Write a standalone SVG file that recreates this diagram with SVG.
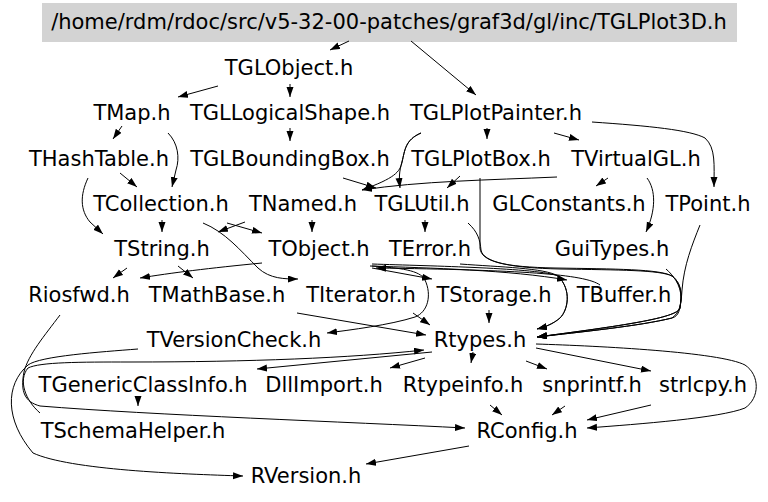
<svg xmlns="http://www.w3.org/2000/svg" width="768" height="502" viewBox="0 0 768 502">
<style>
text{font-family:"DejaVu Sans","Liberation Sans",sans-serif;font-size:21px;text-anchor:middle;fill:#000}
.e path{fill:none;stroke:#000;stroke-width:1;marker-end:url(#ah)}
</style>
<defs>
<marker id="ah" markerUnits="userSpaceOnUse" markerWidth="11" markerHeight="8" refX="10" refY="3.5" orient="auto">
<path d="M0,0 L10,3.5 L0,7 z" fill="#000"/>
</marker>
</defs>
<rect width="768" height="502" fill="#fff"/>
<g id="title"><rect x="42" y="3" width="695" height="39" fill="#d3d3d3"/><text x="389" y="29">/home/rdm/rdoc/src/v5-32-00-patches/graf3d/gl/inc/TGLPlot3D.h</text></g>
<g id="TGLObject"><text x="289" y="75">TGLObject.h</text></g>
<g id="TMap"><text x="132" y="120">TMap.h</text></g>
<g id="TGLLogicalShape"><text x="290" y="120">TGLLogicalShape.h</text></g>
<g id="TGLPlotPainter"><text x="496" y="120">TGLPlotPainter.h</text></g>
<g id="THashTable"><text x="99" y="166">THashTable.h</text></g>
<g id="TGLBoundingBox"><text x="290" y="166">TGLBoundingBox.h</text></g>
<g id="TGLPlotBox"><text x="481" y="166">TGLPlotBox.h</text></g>
<g id="TVirtualGL"><text x="636" y="166">TVirtualGL.h</text></g>
<g id="TCollection"><text x="161" y="211">TCollection.h</text></g>
<g id="TNamed"><text x="303" y="211">TNamed.h</text></g>
<g id="TGLUtil"><text x="422" y="211">TGLUtil.h</text></g>
<g id="GLConstants"><text x="569" y="211">GLConstants.h</text></g>
<g id="TPoint"><text x="708" y="211">TPoint.h</text></g>
<g id="TString"><text x="162" y="256">TString.h</text></g>
<g id="TObject"><text x="319" y="256">TObject.h</text></g>
<g id="TError"><text x="430" y="256">TError.h</text></g>
<g id="GuiTypes"><text x="612" y="256">GuiTypes.h</text></g>
<g id="Riosfwd"><text x="79" y="302">Riosfwd.h</text></g>
<g id="TMathBase"><text x="217" y="302">TMathBase.h</text></g>
<g id="TIterator"><text x="361" y="302">TIterator.h</text></g>
<g id="TStorage"><text x="494" y="302">TStorage.h</text></g>
<g id="TBuffer"><text x="624" y="302">TBuffer.h</text></g>
<g id="TVersionCheck"><text x="234" y="347">TVersionCheck.h</text></g>
<g id="Rtypes"><text x="480" y="347">Rtypes.h</text></g>
<g id="TGenericClassInfo"><text x="143" y="392">TGenericClassInfo.h</text></g>
<g id="DllImport"><text x="324" y="392">DllImport.h</text></g>
<g id="Rtypeinfo"><text x="463" y="392">Rtypeinfo.h</text></g>
<g id="snprintf"><text x="592" y="392">snprintf.h</text></g>
<g id="strlcpy"><text x="703" y="392">strlcpy.h</text></g>
<g id="TSchemaHelper"><text x="133" y="438">TSchemaHelper.h</text></g>
<g id="RConfig"><text x="527" y="438">RConfig.h</text></g>
<g id="RVersion"><text x="306" y="483">RVersion.h</text></g>
<g class="e" id="edges">
<path d="M349,41 L330,50"/>
<path d="M411,41 L476,95"/>
<path d="M218,86 L178,97"/>
<path d="M290,84 L290,97"/>
<path d="M290,128 L290,141"/>
<path d="M122,126 L113,139"/>
<path d="M168,133 C178,143 180,158 176,170 L172,187"/>
<path d="M120,173 L137,187"/>
<path d="M88,178 C80,195 80,210 90,222 L103,234"/>
<path d="M162,220 L162,232"/>
<path d="M203,223 C225,232 240,250 258,268 C270,279 285,279 298,279"/>
<path d="M227,223 L262,233"/>
<path d="M245,222 L218,232"/>
<path d="M312,220 L312,232"/>
<path d="M421,133 C405,140 405,150 402,162 C400,172 395,178 362,190"/>
<path d="M421,133 C405,140 405,150 402,162 C399,172 399,178 400,188"/>
<path d="M487,128 L487,139"/>
<path d="M554,133 L579,140"/>
<path d="M592,122 C650,126 690,130 705,138 C716,148 714,165 714,187"/>
<path d="M557,177 C490,180 420,181 362,190"/>
<path d="M460,176 L447,188"/>
<path d="M343,178 L376,188"/>
<path d="M608,178 L596,186"/>
<path d="M647,178 C656,190 656,210 646,232"/>
<path d="M425,220 L425,232"/>
<path d="M127,268 L113,278"/>
<path d="M178,266 L193,278"/>
<path d="M262,263 C210,268 170,273 140,278"/>
<path d="M468,223 C478,232 480,240 481,250 C483,262 510,268 560,269 C620,270 660,270 672,276 C684,285 681,300 680,308 C678,318 620,326 537,337"/>
<path d="M480,178 L480,248 C481,262 505,267 555,268 C615,269 660,269 672,276 C684,285 681,300 680,308 C678,318 620,326 537,337"/>
<path d="M666,269 C673,275 681,285 681,298 C680,310 679,316 672,318 C640,326 580,332 537,337"/>
<path d="M700,225 C692,245 684,265 682,290 C681,305 680,312 672,318 C640,326 580,332 537,337"/>
<path d="M370,266 C430,268 510,270 567,280"/>
<path d="M600,285 C585,274 520,270 376,268"/>
<path d="M372,264 C430,266 540,268 558,276 C572,290 568,310 560,318 C553,324 545,327 537,329"/>
<path d="M460,264 C500,267 545,268 558,276 C572,290 568,310 560,318 C553,324 545,327 537,329"/>
<path d="M372,268 L432,279"/>
<path d="M372,266 C400,268 420,270 425,280 C432,295 428,312 415,317 C390,325 350,330 327,333"/>
<path d="M297,313 L426,335"/>
<path d="M413,313 L430,325"/>
<path d="M489,310 L489,323"/>
<path d="M432,352 L257,369"/>
<path d="M425,358 L390,368"/>
<path d="M473,352 L471,363"/>
<path d="M526,361 L547,369"/>
<path d="M536,348 L651,371"/>
<path d="M536,344 C600,346 720,352 745,365 C760,375 760,398 745,408 C720,418 640,424 587,428"/>
<path d="M651,405 L587,420"/>
<path d="M565,406 L552,415"/>
<path d="M490,405 L502,415"/>
<path d="M469,446 L366,464"/>
<path d="M138,396 L138,406"/>
<path d="M138,349 C100,352 40,356 28,365 C5,385 5,420 33,453 C70,470 180,474 243,476"/>
<path d="M60,315 C45,335 28,355 24,372 C20,392 25,402 40,406 C150,415 350,422 465,428"/>
<path d="M40,413 C25,400 18,380 28,368 C40,362 80,362 130,362 C250,362 350,358 424,350"/>
</g>
</svg>
